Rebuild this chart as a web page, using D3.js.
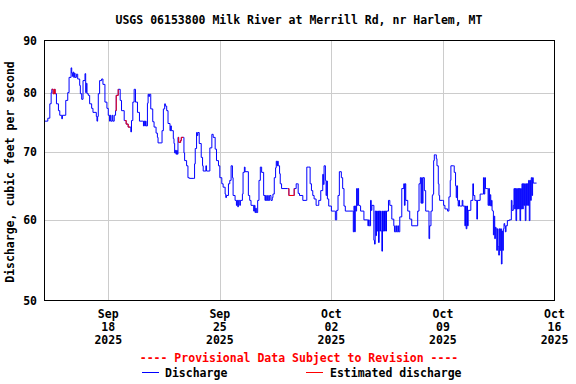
<!DOCTYPE html>
<meta charset="utf-8">
<script src="https://d3js.org/d3.v7.min.js"></script>
<style>
body { margin: 0; background: #fff; }
text { font-family: "DejaVu Sans Mono", monospace; font-weight: bold; font-size: 11.5px; fill: #000; }
.grid { stroke: #cccccc; stroke-width: 1px; }
path.flow { fill: none; stroke: #0000ff; stroke-width: 1px; }
path.est { fill: none; stroke: #ff0000; stroke-width: 1px; }
</style>
<body>
<script>

// hours since 2025-09-14 00:00 UTC
var hours = [0,4,5,7,8,10,11,13,15,16,17,18,21,23,25,26,27,31,32,35,37,40,41,42,43,44,45,46,48,50,
  53,54,56,58,61,62,63,64,66,68,71,73,78,79,80,81,83,86,88,91,94,96,98,99,100,102,103,105,107,108,
  111,114,116,120,121,123,126,129,130,131,133,135,137,140,143,148,149,150,151,152,153,155,156,157,158,160,163,165,168,170,
  171,176,177,179,181,182,184,186,189,190,191,194,195,196,197,198,199,200,201,202,205,206,209,210,211,214,216,218,225,226,
  227,229,230,231,233,236,238,239,243,244,248,249,252,254,257,259,262,264,267,269,272,273,274,277,279,281,283,284,287,289,
  290,291,292,294,295,298,299,301,302,305,307,309,311,314,315,316,317,318,319,321,323,325,327,330,332,333,334,336,337,339,
  341,343,344,346,348,349,350,351,352,354,355,357,366,367,368,375,376,379,381,382,384,389,394,395,398,400,402,404,406,409,
  411,413,416,419,420,421,423,424,425,426,428,432,437,438,439,440,442,444,445,447,449,451,453,464,465,466,467,468,469,470,
  471,472,473,475,476,481,486,487,488,489,490,491,492,493,496,497,498,499,500,501,502,503,504,505,506,507,508,509,510,511,
  512,513,514,515,518,520,523,526,527,529,530,532,533,535,538,541,542,543,544,547,550,553,561,562,564,566,567,568,569,570,
  572,574,578,579,580,582,584,585,586,587,589,590,591,593,594,595,599,601,603,607,609,611,612,616,617,619,620,621,622,623,
  624,625,627,629,630,632,633,634,635,636,637,638,641,642,645,646,648,651,652,656,660,661,662,663,664,665,667,668,669,670,
  671,672,673,674,675,676,677,678,679,680,681,682,683,684,685,686,687,688,689,690,691,692,693,694,695,697,700,703,704,706,
  707,708,709,710,711,712,713,714,715,716,717,718,719,720,721,722,723,724,725,726,727,728,729,730,731,732,733,734,735,736,741];

// discharge, cubic feet per second
var flows = [75.0,75.0,75.5,75.5,78.0,80.0,80.6,79.8,80.6,79.8,79.8,78.0,76.8,76.0,76.0,75.4,76.0,76.0,78.6,80.0,82.8,84.6,83.6,83.0,83.8,82.8,83.6,82.8,83.4,82.5,
  81.3,79.8,78.8,82.2,83.5,80.0,81.7,79.8,79.5,78.0,77.2,76.5,75.8,75.0,75.8,79.8,82.2,82.5,81.5,78.3,77.2,76.0,75.0,76.0,75.0,76.0,75.0,76.0,76.8,79.5,
  80.6,78.6,76.8,75.1,75.1,74.5,74.0,74.0,73.2,75.1,78.3,80.6,78.3,76.5,75.0,75.0,74.2,75.0,74.2,75.0,74.2,78.1,79.7,79.3,79.7,77.1,74.9,74.0,73.0,72.3,
  71.4,71.4,73.4,77.1,78.0,77.6,76.8,74.6,73.4,74.2,73.4,72.1,71.3,69.8,70.2,69.6,70.2,69.6,72.3,71.5,71.8,72.3,72.3,69.8,68.6,67.8,66.0,65.9,65.9,68.1,
  70.5,73.1,72.6,73.1,71.3,69.1,67.8,67.0,67.8,67.0,67.0,70.6,72.8,72.3,70.4,68.6,67.8,66.0,65.1,64.6,63.6,63.1,63.4,65.1,65.6,67.8,66.0,63.4,62.7,62.0,
  62.7,61.8,62.7,62.0,62.7,63.6,66.8,67.6,66.9,66.9,63.4,62.7,62.0,62.0,61.2,62.0,61.0,61.6,61.0,62.7,65.6,67.6,66.8,63.4,62.7,63.4,62.7,63.4,62.7,63.4,
  62.7,63.1,63.6,66.0,67.5,68.5,67.8,68.5,67.8,66.6,65.1,64.4,64.4,64.4,63.4,63.4,64.4,65.1,65.1,63.7,63.4,62.7,62.7,67.6,67.6,65.1,64.1,63.4,62.9,62.0,
  62.0,62.7,64.1,66.5,65.0,67.8,65.6,63.4,65.5,62.9,61.9,61.2,61.2,60.0,60.0,61.3,63.4,66.9,66.9,66.0,64.4,61.9,61.2,61.2,58.4,61.9,58.4,61.9,61.2,64.4,
  62.0,64.4,62.0,61.9,61.2,60.0,60.0,59.2,60.0,59.2,59.2,62.7,61.3,62.0,57.3,56.8,61.2,57.9,61.2,58.5,61.2,57.0,61.2,58.5,61.2,58.5,55.9,61.2,58.5,61.2,
  58.5,61.2,58.5,61.2,62.7,62.0,60.1,59.2,58.4,59.2,58.4,59.2,58.4,60.4,64.4,65.1,62.0,65.1,62.7,61.2,60.1,59.2,59.2,61.2,65.1,66.0,62.3,66.0,62.3,66.0,
  64.1,61.2,61.2,57.5,59.2,61.2,63.4,63.6,68.6,69.5,69.5,68.9,67.8,65.1,63.4,62.7,62.7,62.0,61.5,61.2,63.2,65.6,67.8,67.8,66.8,64.8,63.1,64.8,62.7,61.9,
  62.7,61.9,61.9,62.7,61.9,61.9,59.2,61.9,58.8,61.9,59.2,61.3,61.3,62.7,65.1,63.4,62.7,60.1,62.7,63.6,63.6,66.0,63.6,66.0,64.4,64.4,64.4,62.0,64.4,62.0,
  63.5,61.9,62.7,61.3,61.2,58.0,60.5,57.5,59.0,58.8,56.0,58.8,56.5,55.4,58.8,56.0,58.8,54.3,58.5,56.0,58.8,59.5,59.2,58.4,59.2,59.9,60.0,62.7,61.3,62.0,
  64.4,61.5,64.4,59.9,64.4,61.5,64.4,61.5,64.4,59.9,64.4,61.5,65.1,61.5,65.1,62.0,65.1,59.9,65.1,62.0,65.1,62.0,65.6,59.9,65.6,62.7,66.0,63.4,66.0,65.2,65.2];

// estimated discharge periods (hours)
var estimated = [[11,17],[107,111],[121,129],[201,209],[367,376]];

var yTicks = [50, 60, 70, 80, 90];
var xTicks = [new Date(Date.UTC(2025,8,18)), new Date(Date.UTC(2025,8,25)), new Date(Date.UTC(2025,9,2)),
              new Date(Date.UTC(2025,9,9)), new Date(Date.UTC(2025,9,16))];

var start = Date.UTC(2025,8,14);
var data = hours.map(function(h, i) {
  return {date: new Date(start + h * 3600000), value: flows[i], est: estimated.some(function(r) { return h >= r[0] && h <= r[1]; })};
});

var width = 576, height = 384;
var plotLeft = 44.5, plotRight = 554.5, plotTop = 40.5, plotBottom = 300.5;

var svg = d3.select("body").append("svg")
    .attr("width", width)
    .attr("height", height);

var x = d3.scaleUtc()
    .domain([new Date(start), xTicks[4]])
    .range([plotLeft, plotRight]);

var y = d3.scaleLog()
    .domain([50, 90])
    .range([plotBottom, plotTop]);

// title
svg.append("text").attr("x", 299).attr("y", 24)
   .attr("text-anchor", "middle")
   .text("USGS 06153800 Milk River at Merrill Rd, nr Harlem, MT");

// grid
svg.append("g").selectAll("line")
    .data(yTicks.slice(1, 4))
    .enter().append("line")
    .attr("class", "grid")
    .attr("x1", plotLeft).attr("x2", plotRight)
    .attr("y1", function(d) { return Math.round(y(d)) + 0.5; })
    .attr("y2", function(d) { return Math.round(y(d)) + 0.5; });

svg.append("g").selectAll("line")
    .data(xTicks.slice(0, 4))
    .enter().append("line")
    .attr("class", "grid")
    .attr("y1", plotTop).attr("y2", plotBottom)
    .attr("x1", function(d) { return Math.round(x(d)) + 0.5; })
    .attr("x2", function(d) { return Math.round(x(d)) + 0.5; });

// data lines
var line = d3.line()
    .x(function(d) { return x(d.date); })
    .y(function(d) { return y(d.value); })
    .curve(d3.curveStepAfter);

svg.append("path").datum(data).attr("class", "flow").attr("d", line);
svg.append("path").datum(data).attr("class", "est")
   .attr("d", line.defined(function(d) { return d.est; }));

// frame
svg.append("rect")
   .attr("x", plotLeft).attr("y", plotTop)
   .attr("width", plotRight - plotLeft).attr("height", plotBottom - plotTop)
   .attr("fill", "none").attr("stroke", "#000").attr("stroke-width", 1);

// y tick labels
svg.append("g").selectAll("text")
    .data(yTicks)
    .enter().append("text")
    .attr("x", 37)
    .attr("y", function(d) { return y(d) + 4; })
    .attr("text-anchor", "end")
    .text(function(d) { return d; });

// x tick labels
var fmt = [d3.utcFormat("%b"), d3.utcFormat("%d"), d3.utcFormat("%Y")];
var xl = svg.append("g").selectAll("text")
    .data(xTicks)
    .enter().append("text")
    .attr("text-anchor", "middle")
    .attr("transform", function(d) { return "translate(" + x(d) + ",318)"; });
fmt.forEach(function(f, i) {
  xl.append("tspan").attr("x", 0).attr("y", i * 13).text(function(d) { return f(d); });
});

// y axis title
svg.append("text")
   .attr("transform", "translate(14,172) rotate(-90)")
   .attr("text-anchor", "middle")
   .text("Discharge, cubic feet per second");

// legend
svg.append("text").attr("x", 299).attr("y", 362)
   .attr("text-anchor", "middle")
   .style("fill", "#ff0000")
   .text("---- Provisional Data Subject to Revision ----");

svg.append("line").attr("x1", 142).attr("x2", 159).attr("y1", 372.5).attr("y2", 372.5)
   .attr("stroke", "#0000ff");
svg.append("text").attr("x", 165).attr("y", 377).text("Discharge");

svg.append("line").attr("x1", 306).attr("x2", 323).attr("y1", 372.5).attr("y2", 372.5)
   .attr("stroke", "#ff0000");
svg.append("text").attr("x", 330).attr("y", 377).text("Estimated discharge");

</script>
</body>
